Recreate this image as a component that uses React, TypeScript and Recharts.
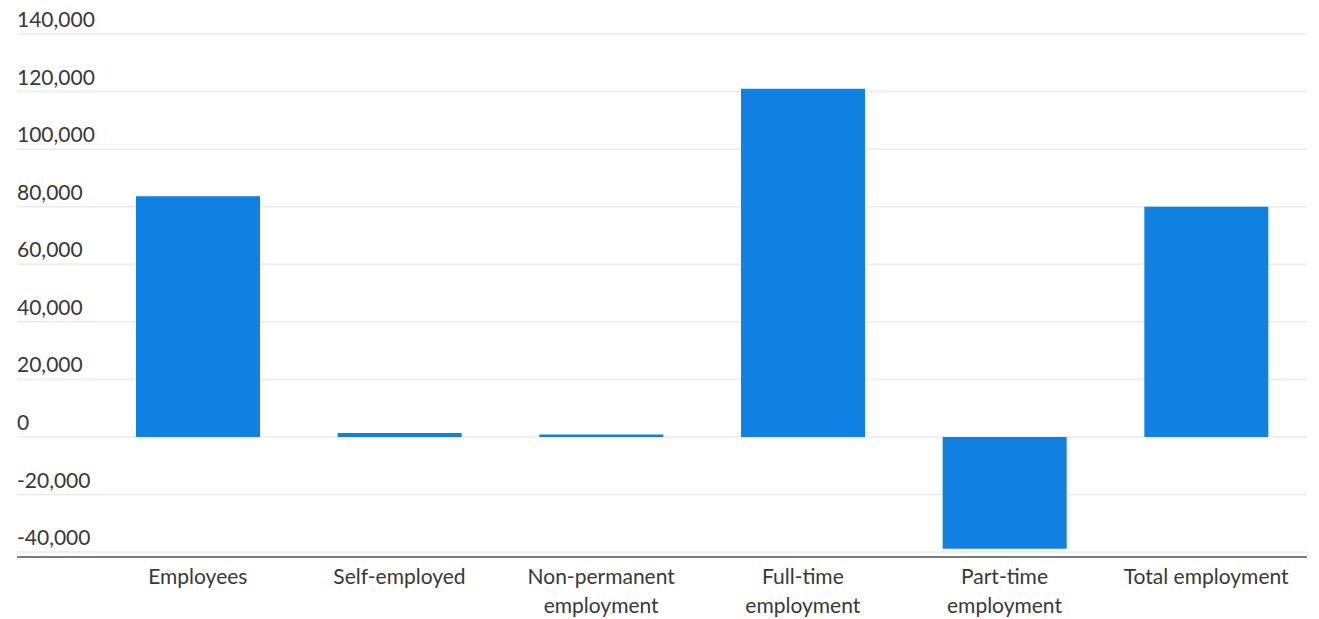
import { BarChart, Bar, XAxis, YAxis, CartesianGrid } from "recharts";

const categories = [
  "Employees",
  "Self-employed",
  "Non-permanent employment",
  "Full-time employment",
  "Part-time employment",
  "Total employment",
];
// label lines as they wrap in the picture
const labelLines: string[][] = [
  ["Employees"],
  ["Self-employed"],
  ["Non-permanent", "employment"],
  ["Full-time", "employment"],
  ["Part-time", "employment"],
  ["Total employment"],
];
const changes = [83600, 1400, 900, 121000, -38800, 80000];
const yTicks = [-40000, -20000, 0, 20000, 40000, 60000, 80000, 100000, 120000, 140000];

const data = categories.map((c, i) => ({ name: c, value: changes[i] }));

const FONT = "Lato, 'Open Sans', sans-serif";
const TEXT = "#383838";

function YTick(props: any) {
  const { y, payload } = props;
  return (
    <text x={9} y={y - 7} textAnchor="start" fill={TEXT} fontSize={21} fontFamily={FONT}>
      {Number(payload.value).toLocaleString("en-US")}
    </text>
  );
}

function XTick(props: any) {
  const { x, payload } = props;
  const lines = labelLines[payload.index] ?? [payload.value];
  return (
    <text x={x} y={575.5} textAnchor="middle" fill={TEXT} fontSize={21} fontFamily={FONT}>
      {lines.map((l, i) => (
        <tspan key={i} x={x} dy={i === 0 ? 0 : 29}>
          {l}
        </tspan>
      ))}
    </text>
  );
}

export default function App() {
  return (
    <div style={{ width: 1303, height: 611 }}>
      <BarChart
        width={1303}
        height={611}
        data={data}
        margin={{ top: 26, right: 4, bottom: 0, left: 8 }}
      >
        <CartesianGrid vertical={false} stroke="#ebebeb" strokeWidth={1.5} />
        <XAxis
          dataKey="name"
          height={62}
          padding={{ left: 80, right: 0 }}
          axisLine={{ stroke: "#555", strokeWidth: 1.5 }}
          tickLine={false}
          tick={<XTick />}
          interval={0}
        />
        <YAxis
          width={1}
          domain={[-41700, 140000]}
          ticks={yTicks}
          axisLine={false}
          tickLine={false}
          tick={<YTick />}
          allowDataOverflow
        />
        <Bar dataKey="value" fill="#1080e3" barSize={124} isAnimationActive={false} />
      </BarChart>
    </div>
  );
}
